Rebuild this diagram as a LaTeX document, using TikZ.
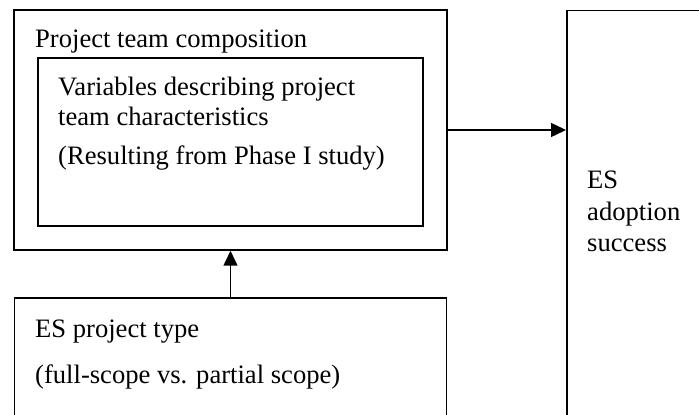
\documentclass[tikz,border=0pt]{standalone}
\usepackage{fontspec}
\setmainfont{Liberation Serif}
\usetikzlibrary{arrows.meta}
\begin{document}
\begin{tikzpicture}[x=1pt,y=1pt,
  box/.style={draw, line width=1.5pt, rectangle, inner sep=0pt},
  label/.style={anchor=base west, inner sep=0pt, font=\fontsize{26.6}{31}\selectfont},
  conn/.style={line width=1.5pt, -{Triangle[length=15pt,width=14pt]}}]
  \useasboundingbox (0,0) rectangle (699,415);
  \clip (0,0) rectangle (699,415);
  % boxes
  \node[box, minimum width=433pt, minimum height=240pt] (outer) at (230.5,285) {};
  \node[box, minimum width=385pt, minimum height=168pt] (inner) at (230.5,273) {};
  \node[box, minimum width=432pt, minimum height=150pt] (ptype) at (230.5,42) {};
  \node[box, minimum width=170pt, minimum height=440pt, anchor=north west] (success) at (566,405) {};
  % texts
  \node[label] (t1) at (35,367) {Project team composition};
  \node[label] (t2) at (58,319) {Variables describing project};
  \node[label] (t3) at (58,289) {team characteristics};
  \node[label] (t4) at (58,250) {(Resulting from Phase I study)};
  \node[label] (t5) at (35,77) {ES project type};
  \node[label] (t6) at (35,31) {(full-scope vs. partial scope)};
  \node[label] (t7) at (587,226) {ES};
  \node[label] (t8) at (587,194) {adoption};
  \node[label] (t9) at (587,163) {success};
  % connectors
  \draw[conn] (outer.east) -- (outer.east -| success.west);
  \draw[conn] (ptype.north) -- (outer.south);
\end{tikzpicture}
\end{document}
